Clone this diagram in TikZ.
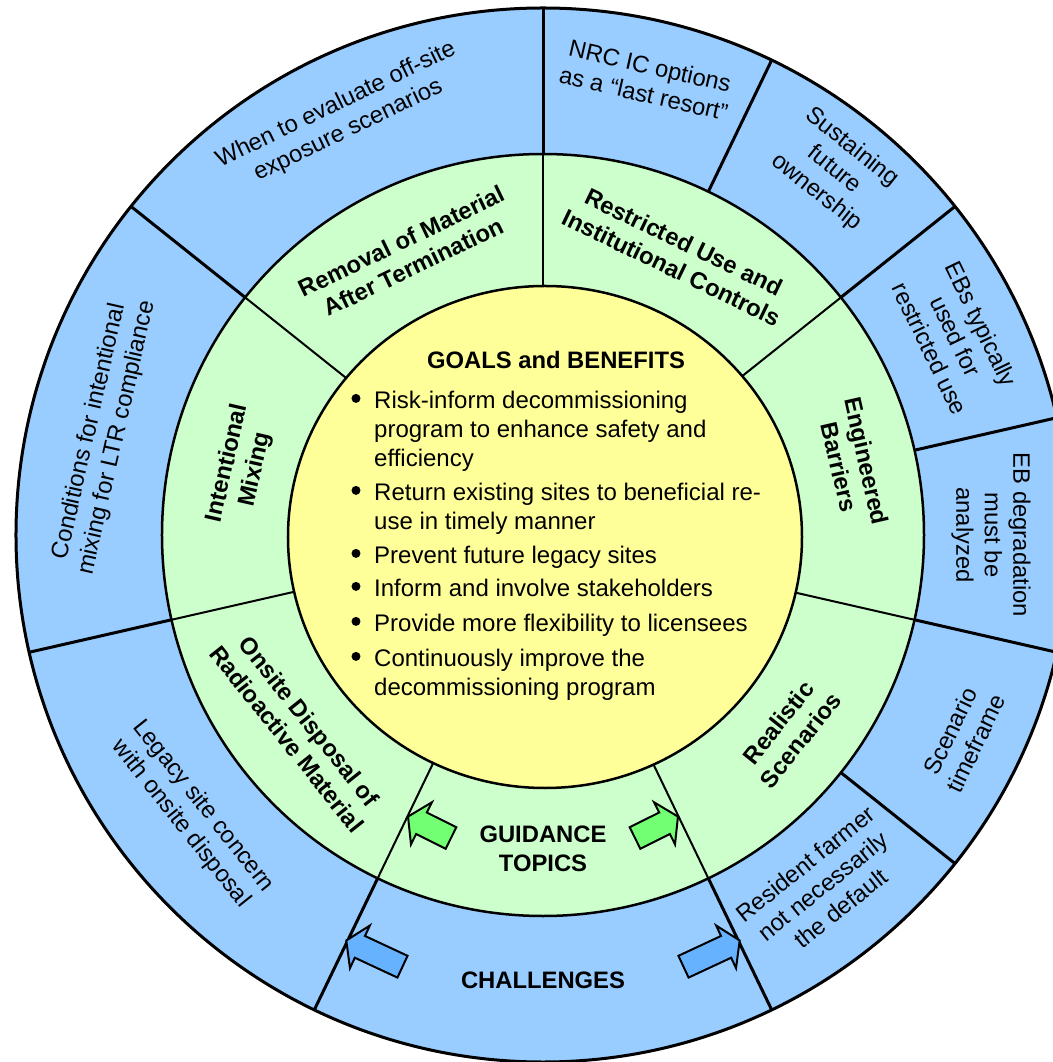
\documentclass[tikz,border=0pt]{standalone}
\usepackage{fontspec}
\setmainfont{Liberation Sans}
\definecolor{ringblue}{RGB}{153,204,255}
\definecolor{ringgreen}{RGB}{204,255,204}
\definecolor{coreyellow}{RGB}{255,255,153}
\definecolor{arrgreen}{RGB}{115,255,115}
\definecolor{arrblue}{RGB}{102,178,255}
\tikzset{
  glabel/.style={font=\fontsize{23.8}{28.4}\selectfont\bfseries, align=center, inner sep=0pt},
  olabel/.style={font=\fontsize{23.8}{28.4}\selectfont, align=center, inner sep=0pt},
  bodyline/.style={font=\fontsize{24}{28.4}\selectfont, anchor=base west, inner sep=0pt},
  bulletdot/.style={circle, fill=black, inner sep=0pt, minimum size=9pt},
  pics/blockarr/.style n args={2}{code={
    \filldraw[fill=#2, draw=black, line width=2pt, line join=miter]
      (0,-12) -- ({#1-15},-12) -- ({#1-15},-23.5) -- (#1,0) -- ({#1-15},23.5) -- ({#1-15},12) -- (0,12) -- cycle;
  }}
}
\begin{document}
\begin{tikzpicture}[x=1pt,y=1pt]
\useasboundingbox (-543,-527) rectangle (509,535);
% outer ring
\fill[ringblue] (0,0) circle[radius=527pt];
\foreach \a in {90,64.2857,38.5714,12.8571,-12.8571,-38.5714,-64.2857,-115.7143,-167.1429,141.4286}
  \draw[line width=3pt] (\a:378) -- (\a:527);
\draw[line width=3pt] (0,0) circle[radius=527pt];
% middle ring
\filldraw[fill=ringgreen, draw=black, line width=2.5pt] (0,0) circle[radius=381pt];
\foreach \a in {90,38.5714,-12.8571,-64.2857,-115.7143,-167.1429,141.4286}
  \draw[line width=2pt] (0,0) -- (\a:381);
% core
\filldraw[fill=coreyellow, draw=black, line width=2.5pt] (2,-2) ellipse[x radius=257pt, y radius=251pt];

% middle ring labels
\node[glabel, rotate=25.71] (removal) at (115.71:312) {Removal of Material\\After Termination};
\node[glabel, rotate=-25.71] (restricted) at (64.29:311) {Restricted Use and\\Institutional Controls};
\node[glabel, rotate=-77.14] (engineered) at (12.86:318) {Engineered\\Barriers};
\node[glabel, rotate=51.43] (realistic) at (-38.57:315) {Realistic\\Scenarios};
\node[glabel] (guidance) at (0,-314) {GUIDANCE\\TOPICS};
\node[glabel, rotate=-51.43] (onsite) at (-141.43:313) {Onsite Disposal of\\Radioactive Material};
\node[glabel, rotate=77.14] (mixing) at (167.14:309) {Intentional\\Mixing};

% outer ring labels
\node[olabel, rotate=25.71] (offsite) at (115.71:463) {When to evaluate off-site\\exposure scenarios};
\node[olabel, rotate=-12.86] (nrc) at (77.14:467) {NRC IC options\\as a “last resort”};
\node[olabel, rotate=-38.57] (sustain) at (51.43:467) {Sustaining\\future\\ownership};
\node[olabel, rotate=-64.29] (ebs) at (25.71:458) {EBs typically\\used for\\restricted use};
\node[olabel, rotate=-90] (ebdeg) at (0:448) {EB degradation\\must be\\analyzed};
\node[olabel, rotate=64.29] (timeframe) at (-25.71:466) {Scenario\\timeframe};
\node[olabel, rotate=38.57] (farmer) at (-51.43:449) {Resident farmer\\not necessarily\\the default};
\node[glabel] (challenges) at (0,-445) {CHALLENGES};
\node[olabel, rotate=-51.43] (legacy) at (-141.43:449) {Legacy site concern\\with onsite disposal};
\node[olabel, rotate=77.14] (conditions) at (167.14:451) {Conditions for intentional\\mixing for LTR compliance};

% core text
\node[glabel, anchor=base] (title) at (13,166.7) {GOALS and BENEFITS};
\node[bulletdot] (d1) at (-187,136.6) {};
\node[bodyline] (l1) at (-169,126.6) {Risk-inform decommissioning};
\node[bodyline] (l2) at (-169,97.6) {program to enhance safety and};
\node[bodyline] (l3) at (-169,68.6) {efficiency};
\node[bulletdot] (d2) at (-187,44.6) {};
\node[bodyline] (l4) at (-169,34.6) {Return existing sites to beneficial re-};
\node[bodyline] (l5) at (-169,5.6) {use in timely manner};
\node[bulletdot] (d3) at (-187,-18.4) {};
\node[bodyline] (l6) at (-169,-28.4) {Prevent future legacy sites};
\node[bulletdot] (d4) at (-187,-51.4) {};
\node[bodyline] (l7) at (-169,-61.4) {Inform and involve stakeholders};
\node[bulletdot] (d5) at (-187,-86.4) {};
\node[bodyline] (l8) at (-169,-96.4) {Provide more flexibility to licensees};
\node[bulletdot] (d6) at (-187,-121.4) {};
\node[bodyline] (l9) at (-169,-131.4) {Continuously improve the};
\node[bodyline] (l10) at (-169,-160.4) {decommissioning program};

% arrows
\pic[rotate=153.5] (garrL) at (-92,-303) {blockarr={48}{arrgreen}};
\pic[rotate=26.5] (garrR) at (92,-303) {blockarr={48}{arrgreen}};
\pic[rotate=155] (barrL) at (-140.5,-431.7) {blockarr={62}{arrblue}};
\pic[rotate=25] (barrR) at (140.5,-431.7) {blockarr={62}{arrblue}};
\end{tikzpicture}
\end{document}
